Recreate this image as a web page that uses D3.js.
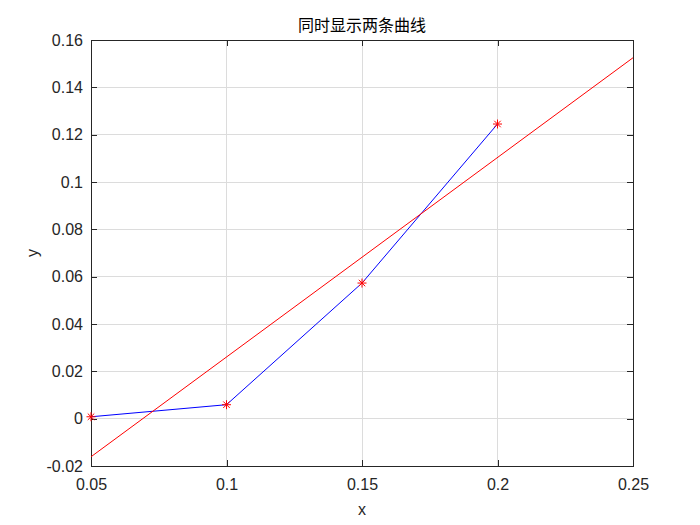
<!DOCTYPE html>
<html><head><meta charset="utf-8">
<script src="https://cdn.jsdelivr.net/npm/d3@7"></script>
<style>body{margin:0;background:#fff}</style>
</head><body>
<svg id="c" width="700" height="525"></svg>
<script>
const xData = [0.05, 0.10, 0.15, 0.20];
const yData = [0.0008, 0.0059, 0.0573, 0.1245];
const fitX = [0.05, 0.25];
const fitY = [-0.0161, 0.1525];
const xTicks = [0.05, 0.1, 0.15, 0.2, 0.25];
const yTicks = [-0.02, 0, 0.02, 0.04, 0.06, 0.08, 0.1, 0.12, 0.14, 0.16];
const titleText = "同时显示两条曲线";

const W = 700, H = 525;
const m = {l: 91, r: 67, t: 40, b: 59};
const svg = d3.select("#c");
const iw = W - m.l - m.r, ih = H - m.t - m.b;
const x = d3.scaleLinear().domain([0.05, 0.25]).range([m.l, m.l + iw]);
const y = d3.scaleLinear().domain([-0.02, 0.16]).range([m.t + ih, m.t]);
const font = "'Liberation Sans', Arial, sans-serif";

svg.append("rect").attr("x", 0).attr("y", 0).attr("width", W).attr("height", H).attr("fill", "#fff");
svg.append("rect").attr("x", m.l).attr("y", m.t).attr("width", iw).attr("height", ih).attr("fill", "#fff");

// grid
const g = svg.append("g").attr("stroke", "#dcdcdc").attr("stroke-width", 1).attr("shape-rendering", "crispEdges");
xTicks.forEach(t => g.append("line").attr("x1", x(t)).attr("x2", x(t)).attr("y1", m.t).attr("y2", m.t + ih));
yTicks.forEach(t => g.append("line").attr("x1", m.l).attr("x2", m.l + iw).attr("y1", y(t)).attr("y2", y(t)));

// axes (ticks inward)
const fmt = d => String(+d.toFixed(4));
const tl = 6;
const axB = svg.append("g").attr("transform", `translate(0,${m.t + ih})`)
  .call(d3.axisBottom(x).tickValues(xTicks).tickFormat(fmt).tickSizeInner(-tl).tickSizeOuter(0).tickPadding(13));
const axT = svg.append("g").attr("transform", `translate(0,${m.t})`)
  .call(d3.axisTop(x).tickValues(xTicks).tickFormat("").tickSizeInner(-tl).tickSizeOuter(0));
const axL = svg.append("g").attr("transform", `translate(${m.l},0)`)
  .call(d3.axisLeft(y).tickValues(yTicks).tickFormat(fmt).tickSizeInner(-tl).tickSizeOuter(0).tickPadding(8));
const axR = svg.append("g").attr("transform", `translate(${m.l + iw},0)`)
  .call(d3.axisRight(y).tickValues(yTicks).tickFormat("").tickSizeInner(-tl).tickSizeOuter(0));
[axB, axT, axL, axR].forEach(a => {
  a.selectAll(".domain").remove();
  a.selectAll("line").attr("stroke", "#262626").attr("shape-rendering", "crispEdges");
  a.selectAll("text").attr("font-family", font).attr("font-size", 16).attr("fill", "#262626");
});
axB.selectAll("text").attr("dy", "0.71em");

svg.append("rect").attr("x", m.l).attr("y", m.t).attr("width", iw).attr("height", ih)
  .attr("fill", "none").attr("stroke", "#262626").attr("stroke-width", 1).attr("shape-rendering", "crispEdges");

// data line
const pts = xData.map((d, i) => [d, yData[i]]);
const line = d3.line().x(d => x(d[0])).y(d => y(d[1]));
svg.append("path").datum(pts).attr("d", line).attr("fill", "none").attr("stroke", "#0000ff").attr("stroke-width", 1);

// fit line
const fpts = fitX.map((d, i) => [d, fitY[i]]);
svg.append("path").datum(fpts).attr("d", line).attr("fill", "none").attr("stroke", "#ff0000").attr("stroke-width", 1);

// asterisk markers
const r = 4.5, q = r * 0.72;
const star = `M${-r},0L${r},0M0,${-r}L0,${r}M${-q},${-q}L${q},${q}M${-q},${q}L${q},${-q}`;
svg.append("g").selectAll("path").data(pts).join("path")
  .attr("transform", d => `translate(${x(d[0])},${y(d[1])})`)
  .attr("d", star).attr("stroke", "#ff0000").attr("stroke-width", 1).attr("fill", "none");

// title and labels
svg.append("text").attr("x", m.l + iw / 2).attr("y", 31).attr("text-anchor", "middle")
  .attr("font-family", "'Noto Sans CJK SC', sans-serif").attr("font-size", 16).attr("fill", "#000").text(titleText);
svg.append("text").attr("x", m.l + iw / 2).attr("y", 515).attr("text-anchor", "middle")
  .attr("font-family", font).attr("font-size", 16).attr("fill", "#262626").text("x");
svg.append("text").attr("transform", `translate(38,${m.t + ih / 2}) rotate(-90)`).attr("text-anchor", "middle")
  .attr("font-family", font).attr("font-size", 16).attr("fill", "#262626").text("y");
</script>
</body></html>
